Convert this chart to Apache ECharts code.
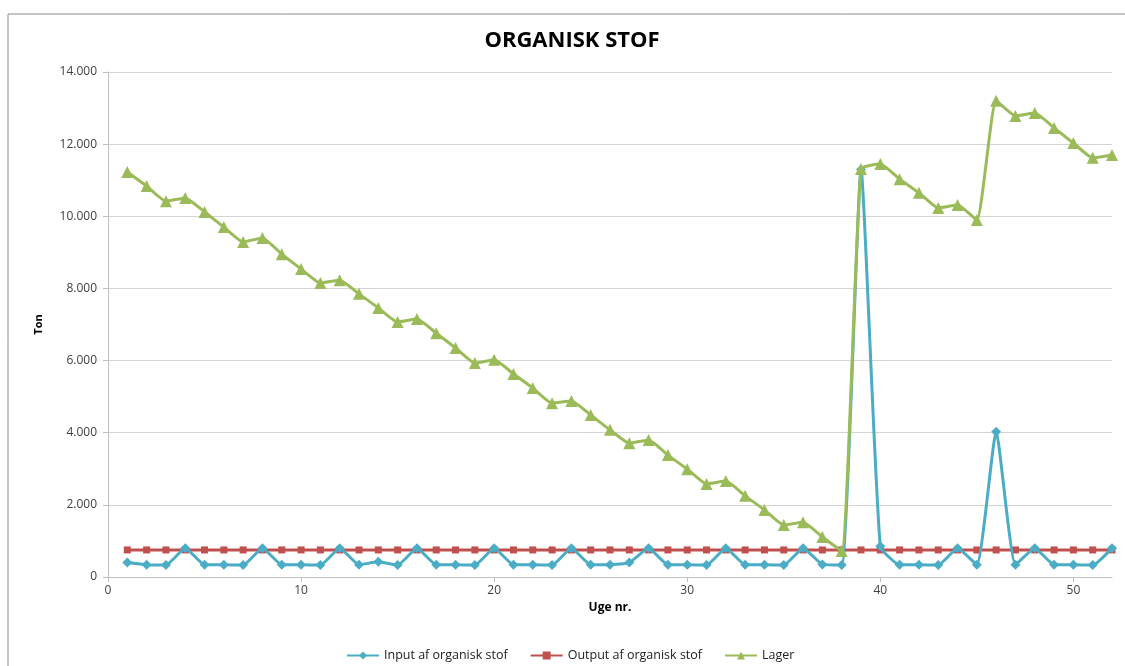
<!DOCTYPE html>
<html>
<head>
<meta charset="utf-8">
<script src="https://cdn.jsdelivr.net/npm/echarts@6/dist/echarts.min.js"></script>
<style>html,body{margin:0;padding:0;background:#fff}#c{width:1125px;height:666px}</style>
</head>
<body>
<div id="c"></div>
<script>
const weeks = [1,2,3,4,5,6,7,8,9,10,11,12,13,14,15,16,17,18,19,20,21,22,23,24,25,26,27,28,29,30,31,32,33,34,35,36,37,38,39,40,41,42,43,44,45,46,47,48,49,50,51,52];
const inputVals = [400,340,330,800,340,340,330,800,340,340,330,800,340,420,330,800,340,340,330,800,340,340,330,800,340,340,400,800,340,340,330,800,340,340,330,800,350,330,11300,850,340,340,330,800,340,4030,340,800,340,340,330,800];
const outputVals = [750,750,750,750,750,750,750,750,750,750,750,750,750,750,750,750,750,750,750,750,750,750,750,750,750,750,750,750,750,750,750,750,750,750,750,750,750,750,750,750,750,750,750,750,750,750,750,750,750,750,750,750];
const lagerVals = [11230,10840,10420,10510,10120,9700,9290,9400,8950,8540,8150,8230,7850,7460,7070,7150,6760,6350,5930,6020,5630,5240,4820,4880,4490,4080,3710,3800,3380,2990,2580,2660,2250,1860,1440,1520,1110,720,11310,11450,11030,10650,10230,10310,9900,13200,12780,12860,12450,12030,11620,11700];
const xTicks = [0,10,20,30,40,50];
const seriesNames = ['Input af organisk stof','Output af organisk stof','Lager'];

const font = '"Open Sans", Lato, "Liberation Sans", sans-serif';
function pairs(vals){ return weeks.map((w,i)=>[w, vals[i]]); }
function fmt(v){ return String(v).replace(/\B(?=(\d{3})+(?!\d))/g,'.'); }

const chart = echarts.init(document.getElementById('c'), null, {renderer:'canvas'});
chart.setOption({
  animation:false,
  backgroundColor:'#fff',
  graphic:[{type:'rect', shape:{x:8,y:14,width:1200,height:800}, style:{fill:'none', stroke:'#8c8c8c', lineWidth:1}, silent:true, z:-1}],
  title:{text:'ORGANISK STOF', left:567, textAlign:'center', top:25, textStyle:{fontFamily:font, fontSize:22, fontWeight:'bold', color:'#000'}},
  grid:{left:108, right:13, top:72, bottom:89, containLabel:false},
  legend:{bottom:-1, left:341, itemWidth:32, itemHeight:10, itemGap:22, textStyle:{fontFamily:font, fontSize:12.5, color:'#222'}, data:seriesNames},
  xAxis:{type:'value', min:0, max:52, interval:10,
    name:'Uge nr.', nameLocation:'middle', nameGap:19, nameTextStyle:{fontFamily:font, fontSize:12, fontWeight:'bold', color:'#000'},
    axisLine:{lineStyle:{color:'#bfbfbf', width:1}},
    axisTick:{show:true, length:5, customValues:xTicks, lineStyle:{color:'#bfbfbf'}},
    axisLabel:{customValues:xTicks, fontFamily:font, fontSize:12, color:'#404040', margin:8},
    splitLine:{show:false}},
  yAxis:{type:'value', min:0, max:14000, interval:2000,
    name:'Ton', nameLocation:'middle', nameGap:64, nameRotate:90, nameTextStyle:{fontFamily:font, fontSize:11, fontWeight:'bold', color:'#000'},
    axisLine:{show:true, lineStyle:{color:'#bfbfbf', width:1}},
    axisTick:{show:true, length:5, lineStyle:{color:'#bfbfbf'}},
    axisLabel:{formatter:fmt, fontFamily:font, fontSize:12, color:'#404040', margin:11},
    splitLine:{show:true, lineStyle:{color:'#d4d4d4', width:1}}},
  series:[
    {name:seriesNames[0], type:'line', data:pairs(inputVals), symbol:'diamond', symbolSize:10, itemStyle:{color:'#4bacc6'}, lineStyle:{color:'#4bacc6', width:3}, smooth:0.15, z:3},
    {name:seriesNames[1], type:'line', data:pairs(outputVals), symbol:'rect', symbolSize:7, itemStyle:{color:'#c0504d'}, lineStyle:{color:'#c0504d', width:3}, z:2},
    {name:seriesNames[2], type:'line', data:pairs(lagerVals), symbol:'triangle', symbolSize:12, itemStyle:{color:'#9bbb59'}, lineStyle:{color:'#9bbb59', width:3}, smooth:0.15, z:4}
  ]
});
</script>
</body>
</html>
